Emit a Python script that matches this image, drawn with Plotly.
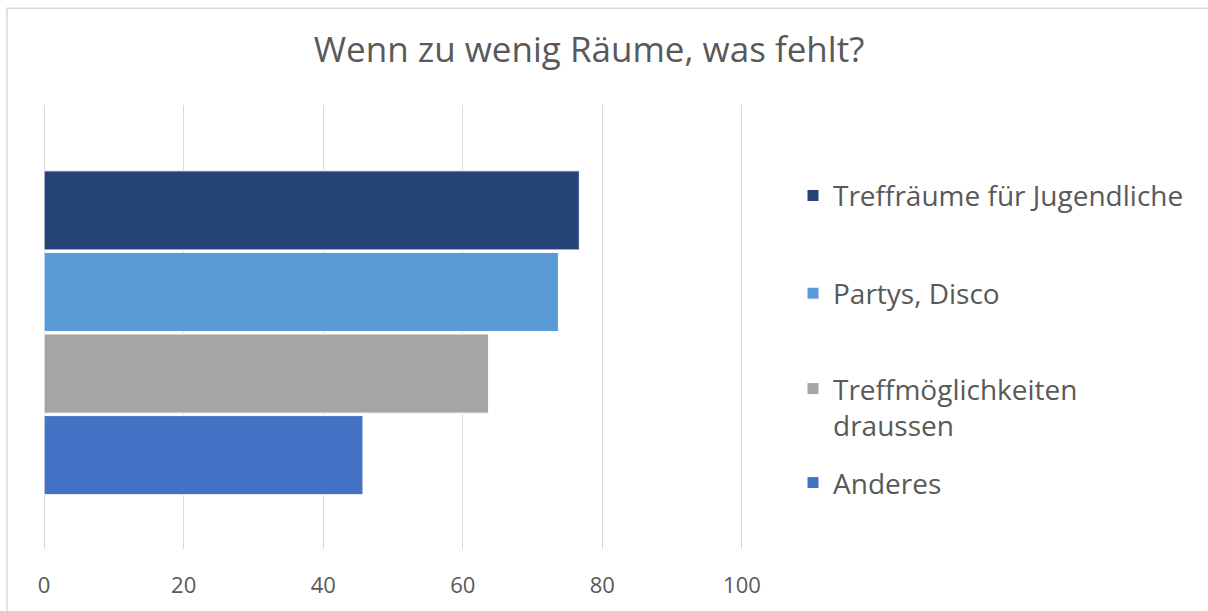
import plotly.graph_objects as go

title = "Wenn zu wenig Räume, was fehlt?"
series_names = ["Treffräume für Jugendliche", "Partys, Disco", "Treffmöglichkeiten<br>draussen", "Anderes"]
series_values = [76.7, 73.7, 63.7, 45.7]
series_colors = ["#264478", "#5B9BD5", "#A5A5A5", "#4472C4"]
category = ["Raum"]
x_ticks = [0, 20, 40, 60, 80, 100]

FONT = "Open Sans"
TXT = "#595959"

W, H = 1208, 611
L, R, T, B = 43, 465, 105, 56
pw, ph = W - L - R, H - T - B

def px_y(ypx):
    return (H - B - ypx) / ph

def px_x(xpx):
    return (xpx - L) / pw

legend_centers = [197, 296, 411, 488]
legend_names = ["legend", "legend2", "legend3", "legend4"]

fig = go.Figure()
# add in reverse so first series is on top
for i in reversed(range(len(series_names))):
    fig.add_trace(go.Bar(
        y=category, x=[series_values[i]], orientation="h",
        name=series_names[i],
        marker=dict(color=series_colors[i], line=dict(color="white", width=1)),
        legend=legend_names[i],
        hoverinfo="x+name",
    ))

layout_legends = {}
for i, ln in enumerate(legend_names):
    layout_legends[ln] = dict(
        x=px_x(793), xanchor="left",
        y=px_y(legend_centers[i]), yanchor="middle",
        font=dict(family=FONT, size=28, color=TXT),
        valign="top",
        bgcolor="rgba(0,0,0,0)",
    )

fig.update_layout(
    width=W, height=H,
    margin=dict(l=L, r=R, t=T, b=B),
    paper_bgcolor="white", plot_bgcolor="white",
    title=dict(text=title, xref="container", x=589 / W, xanchor="center",
               yref="container", y=1 - 50 / H, yanchor="middle",
               font=dict(family=FONT, size=35, color=TXT)),
    barmode="group", bargap=0.265, bargroupgap=0.03,
    showlegend=True,
    xaxis=dict(range=[-0.15, 100.15], tickvals=x_ticks, ticktext=[str(v) for v in x_ticks],
               showgrid=True, gridcolor="#D9D9D9", gridwidth=1,
               zeroline=False, showline=False, ticks="",
               ticklabelstandoff=21,
               tickfont=dict(family=FONT, size=22, color=TXT), fixedrange=True),
    yaxis=dict(range=[-0.487, 0.513], showticklabels=False, showgrid=False, zeroline=False,
               showline=False, ticks="", fixedrange=True),
    shapes=[dict(type="rect", xref="paper", yref="paper",
                 x0=px_x(7), x1=px_x(1250), y0=px_y(650), y1=px_y(7),
                 line=dict(color="#D9D9D9", width=1.5), fillcolor="rgba(0,0,0,0)", layer="below")],
    **layout_legends,
)

fig.write_html("out.html", config={"displayModeBar": False},
               post_script="document.body.style.margin='0px';document.body.style.padding='0px';")
